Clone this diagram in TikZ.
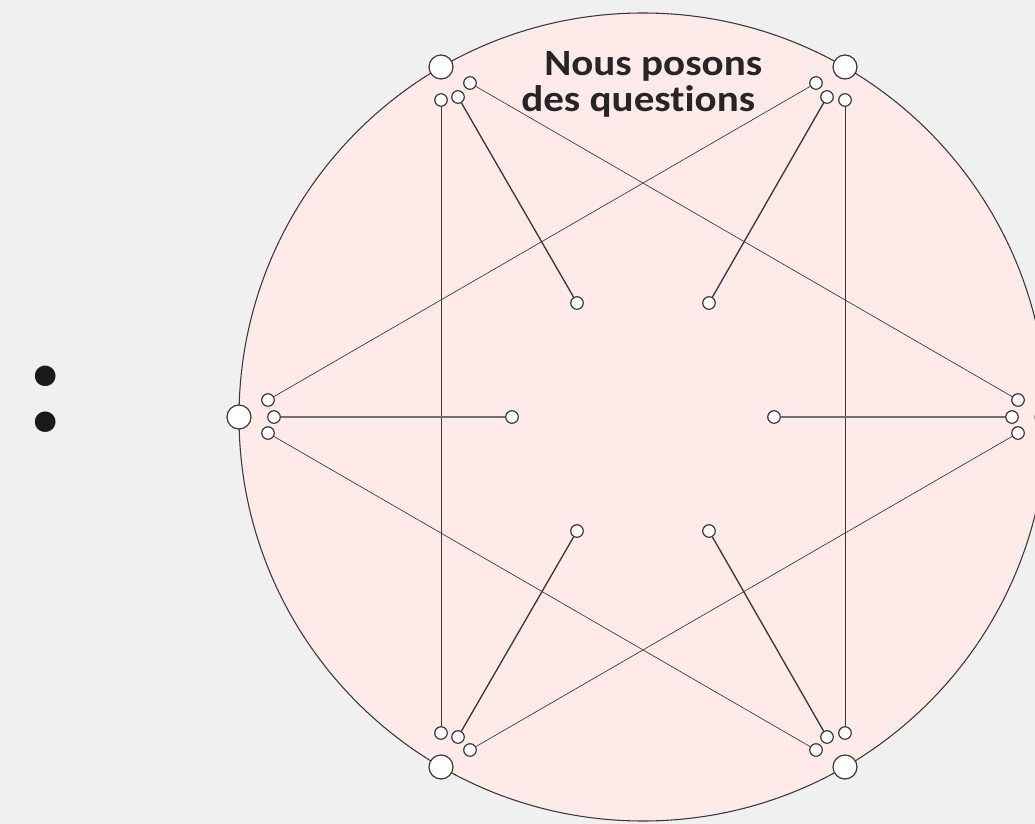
\documentclass[tikz,border=0pt]{standalone}
\usepackage{fontspec}
\setmainfont{Carlito}
\newfontfamily\titlefont[FakeStretch=1.11,Ligatures=NoCommon]{Carlito}
\definecolor{BackClr}{rgb}{0.941,0.941,0.941}
\definecolor{DiscClr}{rgb}{1,0.918,0.918}
\definecolor{EdgeClr}{rgb}{0.22,0.22,0.22}
\definecolor{SpokeClr}{rgb}{0.44,0.44,0.44}
\definecolor{TextClr}{rgb}{0.15,0.15,0.15}

\tikzset{
  bigdot/.style={circle,draw=EdgeClr,fill=white,line width=0.9pt,minimum size=18pt,inner sep=0pt},
  smalldot/.style={circle,draw=EdgeClr,fill=white,line width=0.9pt,minimum size=9.4pt,inner sep=0pt},
  chord/.style={line width=0.5pt,color=EdgeClr},
  spoke/.style={line width=1pt,color=EdgeClr},
  flatspoke/.style={line width=1.8pt,color=SpokeClr},
  title/.style={font=\titlefont\fontsize{27.75}{33}\selectfont\bfseries,text=TextClr,inner sep=0pt,anchor=base west}
}

\begin{document}
\begin{tikzpicture}[x=0.75pt,y=-0.75pt]
\fill[BackClr] (0,0) rectangle (1035,824);
\useasboundingbox (0,0) rectangle (1035,824);
\clip (0,0) rectangle (1035,824);

\coordinate (O) at (643,417);
\filldraw[fill=DiscClr,draw=EdgeClr,line width=0.8pt] (O) circle (404);

% big dots on the rim
\node[bigdot] (Pa) at (441,67) {};
\node[bigdot] (Pb) at (845,67) {};
\node[bigdot] (Pc) at (1047,417) {};
\node[bigdot] (Pd) at (845,767) {};
\node[bigdot] (Pe) at (441,767) {};
\node[bigdot] (Pf) at (239,417) {};

% small dots near the rim
\node[smalldot] (a1) at (441,100) {}; \node[smalldot] (a2) at (458,97) {};  \node[smalldot] (a3) at (470,83) {};
\node[smalldot] (b1) at (845,100) {}; \node[smalldot] (b2) at (827,97) {};  \node[smalldot] (b3) at (816,83) {};
\node[smalldot] (c1) at (1018,400) {};\node[smalldot] (c2) at (1012,417) {};\node[smalldot] (c3) at (1018,433) {};
\node[smalldot] (d1) at (845,733) {}; \node[smalldot] (d2) at (827,737) {}; \node[smalldot] (d3) at (816,750) {};
\node[smalldot] (e1) at (441,733) {}; \node[smalldot] (e2) at (458,737) {}; \node[smalldot] (e3) at (470,750) {};
\node[smalldot] (f1) at (268,400) {}; \node[smalldot] (f2) at (274,417) {}; \node[smalldot] (f3) at (268,433) {};

% inner dots
\node[smalldot] (i1) at (577,303) {};
\node[smalldot] (i2) at (709,303) {};
\node[smalldot] (i3) at (774,417) {};
\node[smalldot] (i4) at (709,531) {};
\node[smalldot] (i5) at (577,531) {};
\node[smalldot] (i6) at (512,417) {};

\draw[chord] (a1) -- (e1);
\draw[chord] (b1) -- (d1);
\draw[chord] (a3) -- (c1);
\draw[chord] (b3) -- (f1);
\draw[chord] (f3) -- (d3);
\draw[chord] (e3) -- (c3);

\draw[spoke] (a2) -- (i1);
\draw[spoke] (b2) -- (i2);
\draw[spoke] (d2) -- (i4);
\draw[spoke] (e2) -- (i5);
\draw[flatspoke] (f2) -- (i6);
\draw[flatspoke] (c2) -- (i3);

\node[title] (ttlA) at (544,75.5) {Nous posons};
\node[title] (ttlB) at (521,112) {des questions};

\node[font=\fontsize{104}{104}\selectfont\bfseries,text=black!90,inner sep=0pt,anchor=base] (colon) at (45.5,431) {:};
\end{tikzpicture}
\end{document}
